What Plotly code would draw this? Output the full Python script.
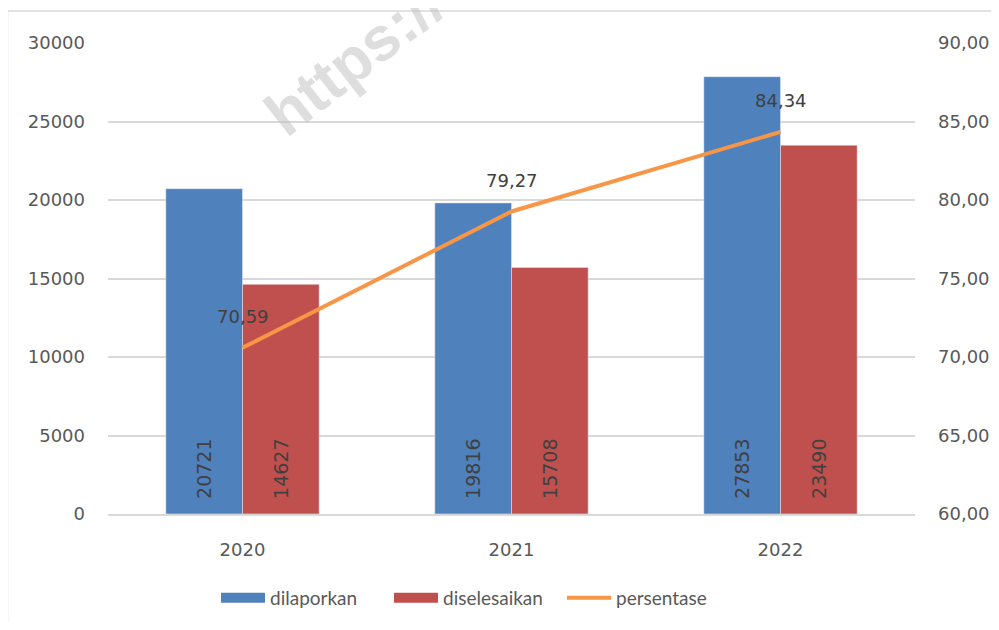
import plotly.graph_objects as go

years = ["2020", "2021", "2022"]
dilaporkan = [20721, 19816, 27853]
diselesaikan = [14627, 15708, 23490]
persentase = [70.59, 79.27, 84.34]
pct_labels = ["70,59", "79,27", "84,34"]

BLUE = "#4F81BD"
RED = "#C0504D"
ORANGE = "#F79646"
TXT = "#595959"
LBL = "#404040"
GRID = "#D9D9D9"
PAD = "\u00a0\u00a0"  # small gap between bar base and its rotated value label

fig = go.Figure()
fig.add_trace(go.Bar(
    x=years, y=dilaporkan, name="dilaporkan", marker_color=BLUE,
    text=[PAD + str(v) for v in dilaporkan], textposition="inside", insidetextanchor="start",
    textangle=-90, textfont=dict(family="DejaVu Sans", size=19, color=LBL),
    offsetgroup="a", showlegend=False))
fig.add_trace(go.Bar(
    x=years, y=diselesaikan, name="diselesaikan", marker_color=RED,
    text=[PAD + str(v) for v in diselesaikan], textposition="inside", insidetextanchor="start",
    textangle=-90, textfont=dict(family="DejaVu Sans", size=19, color=LBL),
    offsetgroup="b", showlegend=False))
fig.add_trace(go.Scatter(
    x=years, y=persentase, name="persentase", mode="lines",
    line=dict(color=ORANGE, width=4), yaxis="y2", showlegend=False))

# legend entries (wide swatches like the original)
for nm, col, w in [("dilaporkan", BLUE, 14), ("diselesaikan", RED, 14), ("persentase", ORANGE, 4)]:
    fig.add_trace(go.Scatter(x=[None], y=[None], mode="lines", name=nm,
                             line=dict(color=col, width=w)))

# percentage labels above the line (category index positions)
for i, (v, t) in enumerate(zip(persentase, pct_labels)):
    fig.add_annotation(x=i, xref="x", y=v, yref="y2", text=t, showarrow=False,
                       xanchor="center", yanchor="middle",
                       yshift=31, font=dict(family="DejaVu Sans", size=18, color=LBL))

# watermark
fig.add_annotation(xref="paper", yref="paper", x=(354 - 108) / 807, y=(514 - 58) / 471,
                   xanchor="center", yanchor="middle",
                   text="<b>https://</b>", showarrow=False, textangle=-38,
                   font=dict(family="Liberation Sans", size=62, color="rgba(190,190,190,0.5)"))

# outer border
fig.add_shape(type="rect", xref="paper", yref="paper",
              x0=(7.5 - 108) / 807, x1=1.2, y0=-0.5, y1=(514 - 11) / 471,
              line=dict(color=GRID, width=1.5), fillcolor="rgba(0,0,0,0)", layer="below")

fig.update_layout(
    width=983, height=614,
    margin=dict(l=100, r=76, t=35, b=108, autoexpand=False),
    paper_bgcolor="white", plot_bgcolor="white",
    barmode="group", bargap=0.43, bargroupgap=0,
    separators=",.",
    font=dict(family="DejaVu Sans", size=18, color=TXT),
    xaxis=dict(type="category", range=[-0.5, 2.5], showgrid=False, showline=True,
               linecolor=GRID, linewidth=1.5, ticks="", ticklabelstandoff=19, automargin=False,
               tickfont=dict(family="DejaVu Sans", size=18, color=TXT)),
    yaxis=dict(range=[0, 30000], dtick=5000, tickformat="d", showgrid=True,
               gridcolor=GRID, gridwidth=1.5, zeroline=False, showline=False,
               ticklabelstandoff=22, automargin=False,
               tickfont=dict(family="DejaVu Sans", size=18, color=TXT)),
    yaxis2=dict(range=[60, 90], dtick=5, tickformat=".2f", overlaying="y", side="right",
                showgrid=False, zeroline=False, showline=False, ticklabelstandoff=22,
                automargin=False,
                tickfont=dict(family="DejaVu Sans", size=18, color=TXT)),
    legend=dict(orientation="h", x=(216 - 108) / 807, xanchor="left", y=(514 - 598) / 471,
                yanchor="middle", font=dict(family="Lato", size=19, color=TXT),
                itemwidth=44, entrywidth=114, traceorder="normal"),
    showlegend=True,
)

fig.write_html("out.html")
